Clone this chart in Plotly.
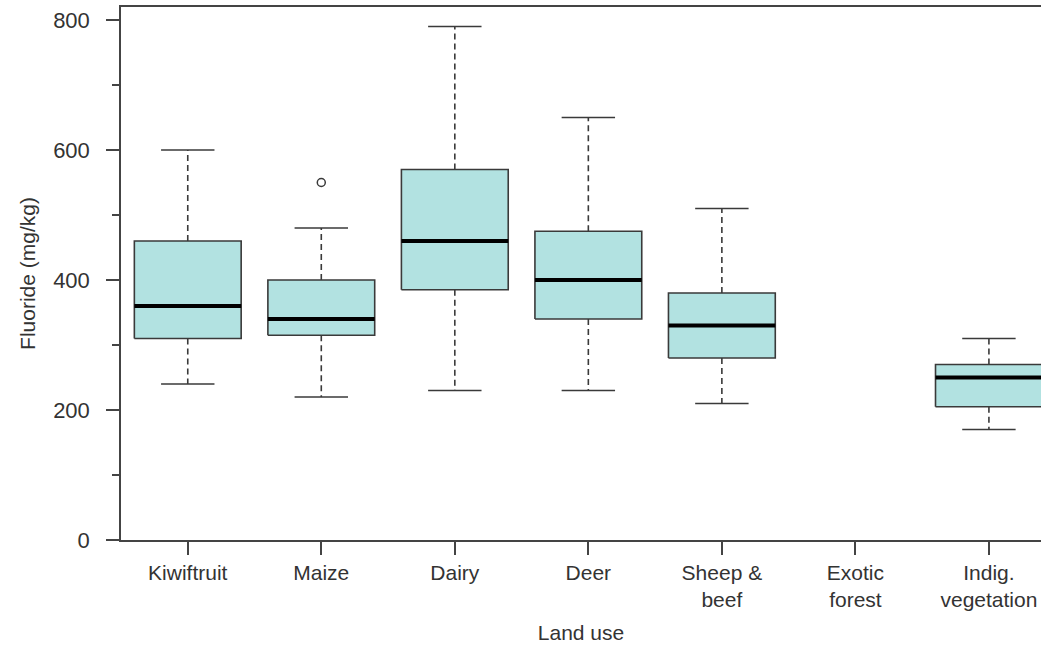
import plotly.graph_objects as go

categories = ["Kiwiftruit", "Maize", "Dairy", "Deer", "Sheep &<br>beef", "Exotic<br>forest", "Indig.<br>vegetation"]
lower_whisker = [240, 220, 230, 230, 210, None, 170]
q1 = [310, 315, 385, 340, 280, None, 205]
median = [360, 340, 460, 400, 330, None, 250]
q3 = [460, 400, 570, 475, 380, None, 270]
upper_whisker = [600, 480, 790, 650, 510, None, 310]
outlier_cat = [1]
outlier_val = [550]

BOX_HALF = 0.4
CAP_HALF = 0.2
FILL = "#b2e2e1"
EDGE = "#3a3a3a"

bx, by, mx, my, wx, wy, cx, cy = [], [], [], [], [], [], [], []
for i, c in enumerate(categories):
    if median[i] is None:
        continue
    bx += [i - BOX_HALF, i + BOX_HALF, i + BOX_HALF, i - BOX_HALF, i - BOX_HALF, None]
    by += [q1[i], q1[i], q3[i], q3[i], q1[i], None]
    mx += [i - BOX_HALF, i + BOX_HALF, None]
    my += [median[i], median[i], None]
    wx += [i, i, None, i, i, None]
    wy += [q3[i], upper_whisker[i], None, q1[i], lower_whisker[i], None]
    cx += [i - CAP_HALF, i + CAP_HALF, None, i - CAP_HALF, i + CAP_HALF, None]
    cy += [upper_whisker[i], upper_whisker[i], None, lower_whisker[i], lower_whisker[i], None]

fig = go.Figure()
fig.add_trace(go.Scatter(x=wx, y=wy, mode="lines",
                         line=dict(color=EDGE, width=1.6, dash="6px,4px"), hoverinfo="skip"))
fig.add_trace(go.Scatter(x=cx, y=cy, mode="lines",
                         line=dict(color=EDGE, width=1.6), hoverinfo="skip"))
fig.add_trace(go.Scatter(x=bx, y=by, mode="lines", fill="toself", fillcolor=FILL,
                         line=dict(color=EDGE, width=1.6), hoverinfo="skip"))
fig.add_trace(go.Scatter(x=mx, y=my, mode="lines",
                         line=dict(color="black", width=4), hoverinfo="skip"))
fig.add_trace(go.Scatter(x=outlier_cat, y=outlier_val, mode="markers",
                         marker=dict(symbol="circle-open", size=8, color=EDGE, line=dict(width=1.5))))

font = "Liberation Sans, Arial, sans-serif"
fig.update_layout(
    width=1041, height=645,
    margin=dict(l=121, r=0, t=7, b=105),
    plot_bgcolor="white", paper_bgcolor="white",
    showlegend=False,
    font=dict(family=font, color="#333333", size=22),
    xaxis=dict(
        range=[-0.5, 6.39],
        tickmode="array", tickvals=list(range(len(categories))), ticktext=categories,
        ticks="outside", ticklen=13, tickwidth=1.5, tickcolor="#444444",
        showline=True, linecolor="#444444", linewidth=1.5, mirror=True,
        showgrid=False, zeroline=False,
        tickfont=dict(size=21),
        title=dict(text="Land use", font=dict(size=21), standoff=15),
    ),
    yaxis=dict(
        range=[0, 820],
        tickmode="array", tickvals=[0, 200, 400, 600, 800],
        ticks="outside", ticklen=13, tickwidth=1.5, tickcolor="#444444",
        minor=dict(tickvals=[100, 300, 500, 700], ticks="outside", ticklen=7, tickwidth=1.5, tickcolor="#444444", showgrid=False),
        showline=True, linecolor="#444444", linewidth=1.5,
        showgrid=False, zeroline=False,
        tickfont=dict(size=22),
        ticklabelstandoff=12,
        title=dict(text="Fluoride (mg/kg)", font=dict(size=21), standoff=12),
    ),
)

fig.write_html("out.html", post_script="document.body.style.margin='0';",
               config={"displayModeBar": False})
